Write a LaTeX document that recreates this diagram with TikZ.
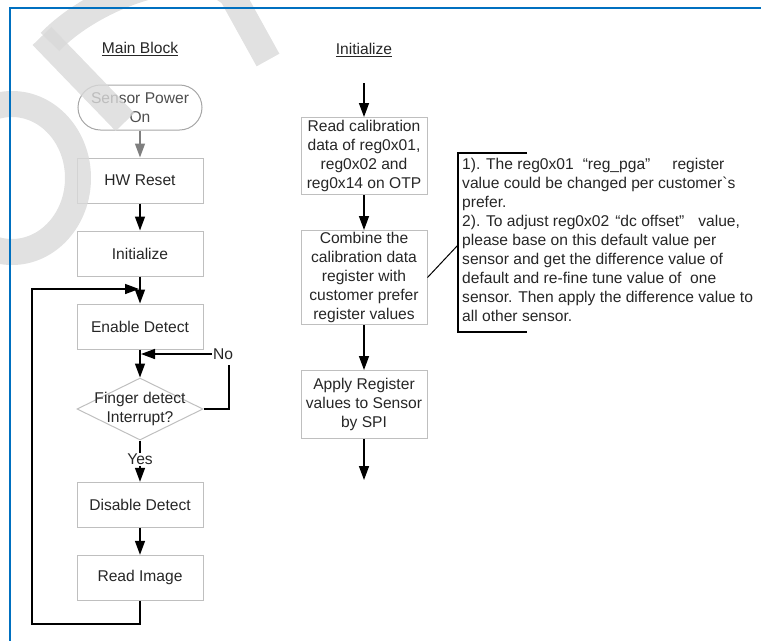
\documentclass[tikz,border=0pt]{standalone}
\usepackage{fontspec}
\setmainfont{Liberation Sans}
\usetikzlibrary{shapes.geometric}
\usetikzlibrary{shapes.misc}
\usetikzlibrary{arrows.meta}
\usetikzlibrary{positioning}

\definecolor{frameblue}{HTML}{0070C0}
\definecolor{boxgray}{HTML}{BFBFBF}
\definecolor{startgray}{HTML}{A6A6A6}
\definecolor{starttext}{HTML}{4D4D4D}
\definecolor{txtgray}{HTML}{262626}
\definecolor{arrgray}{HTML}{7F7F7F}

\newcommand{\flowfont}{\fontsize{15.6}{19}\selectfont}

\tikzset{
  box/.style={draw=boxgray, line width=1pt, text=txtgray, minimum width=126pt,
    minimum height=45pt, inner sep=1pt, align=center, font=\flowfont},
  startbox/.style={box, rounded rectangle, draw=startgray, text=starttext},
  dia/.style={diamond, draw=boxgray, line width=1pt, minimum width=126pt,
    minimum height=62pt, inner sep=0pt},
  lbl/.style={text=txtgray, inner sep=1pt, font=\flowfont},
  arr/.style={line width=1.5pt, -{Triangle[length=14pt,width=10pt]}},
  wire/.style={line width=1.5pt},
}

\begin{document}
\begin{tikzpicture}[x=1pt, y=-1pt]
\useasboundingbox (0,0) rectangle (761,641);

\node[lbl] (mainttl) at (140,49) {\underline{Main Block}};
\node[lbl] (initttl) at (364,50) {\underline{Initialize}};

% main block
\node[startbox] (start) at (140,107.5) {Sensor Power\\On};
\node[box, below=27pt of start] (hwreset) {HW Reset};
\node[box, below=27pt of hwreset] (init) {Initialize};
\node[box, below=27pt of init] (enable) {Enable Detect};
\node[dia, below=28pt of enable] (fing) {};
\node[lbl, align=center] (fingtxt) at (fing) {Finger detect\\Interrupt?};
\node[lbl, below=12pt of fing] (yes) {Yes};
\node[box, below=16pt of yes] (disable) {Disable Detect};
\node[box, below=27pt of disable] (readimg) {Read Image};
\node[lbl] (nolbl) at (223,354) {No};
\coordinate (nojoin) at (141,354);
\coordinate (noturn) at (229,365);
\coordinate (loopbot) at (32,624);
\coordinate (loopin) at (139,289);

\draw[arr, arrgray] (start) -- (hwreset);
\draw[arr] (hwreset) -- (init);
\draw[arr] (init) -- (enable);
\draw[arr] (enable) -- (fing);
\draw[wire] (fing.east) -| (noturn);
\draw[arr] (nolbl.west) -- (nojoin);
\draw[wire] (fing) -- (yes);
\draw[arr] (yes) -- (disable);
\draw[arr] (disable) -- (readimg);
\draw[arr] (readimg) |- (loopbot) |- (loopin);

% initialize
\node[box, minimum height=77pt, anchor=north] (readcal) at (364,117)
  {Read calibration\\data of reg0x01,\\reg0x02 and\\reg0x14 on OTP};
\node[box, minimum height=94pt, below=35pt of readcal] (combine)
  {Combine the\\calibration data\\register with\\customer prefer\\register values};
\node[box, minimum height=68pt, below=45pt of combine] (apply)
  {Apply Register\\values to Sensor\\by SPI};
\coordinate (inittop) at (364,83);
\coordinate (initend) at (364,480);
\draw[arr] (inittop) -- (readcal);
\draw[arr] (readcal) -- (combine);
\draw[arr] (combine) -- (apply);
\draw[arr] (apply) -- (initend);

% note
\coordinate (brjoin) at (458,245);
\draw[wire] (527,153) -- (458,153) -- (458,332) -- (527,332);
\draw[line width=1pt] (combine.east) -- (brjoin);
\node[lbl, anchor=north west, inner sep=0pt, align=left] (note) at (462,158)
{1). The reg0x01\hspace{9pt}“reg\_pga”\hspace{22pt}register\\
value could be changed per customer\textasciigrave s\\
prefer.\\
2). To adjust reg0x02\hspace{6pt}“dc offset”\hspace{14pt}value,\\
please base on this default value per\\
sensor and get the difference value of\\
default and re-fine tune value of\ \ one\\
sensor. Then apply the difference value to\\
all other sensor.};

% watermark
\begin{scope}[opacity=0.8, draw=gray!30, line width=26pt]
\draw (12,178) ellipse [x radius=66, y radius=74];
\draw (125,122) -- (42,36);
\draw (50,42) .. controls (95,-5) and (195,-40) .. (232,-5) -- (268,60);
\end{scope}

\draw[frameblue, line width=2.2pt] (761,8) -- (10,8) -- (10,641);
\end{tikzpicture}
\end{document}
